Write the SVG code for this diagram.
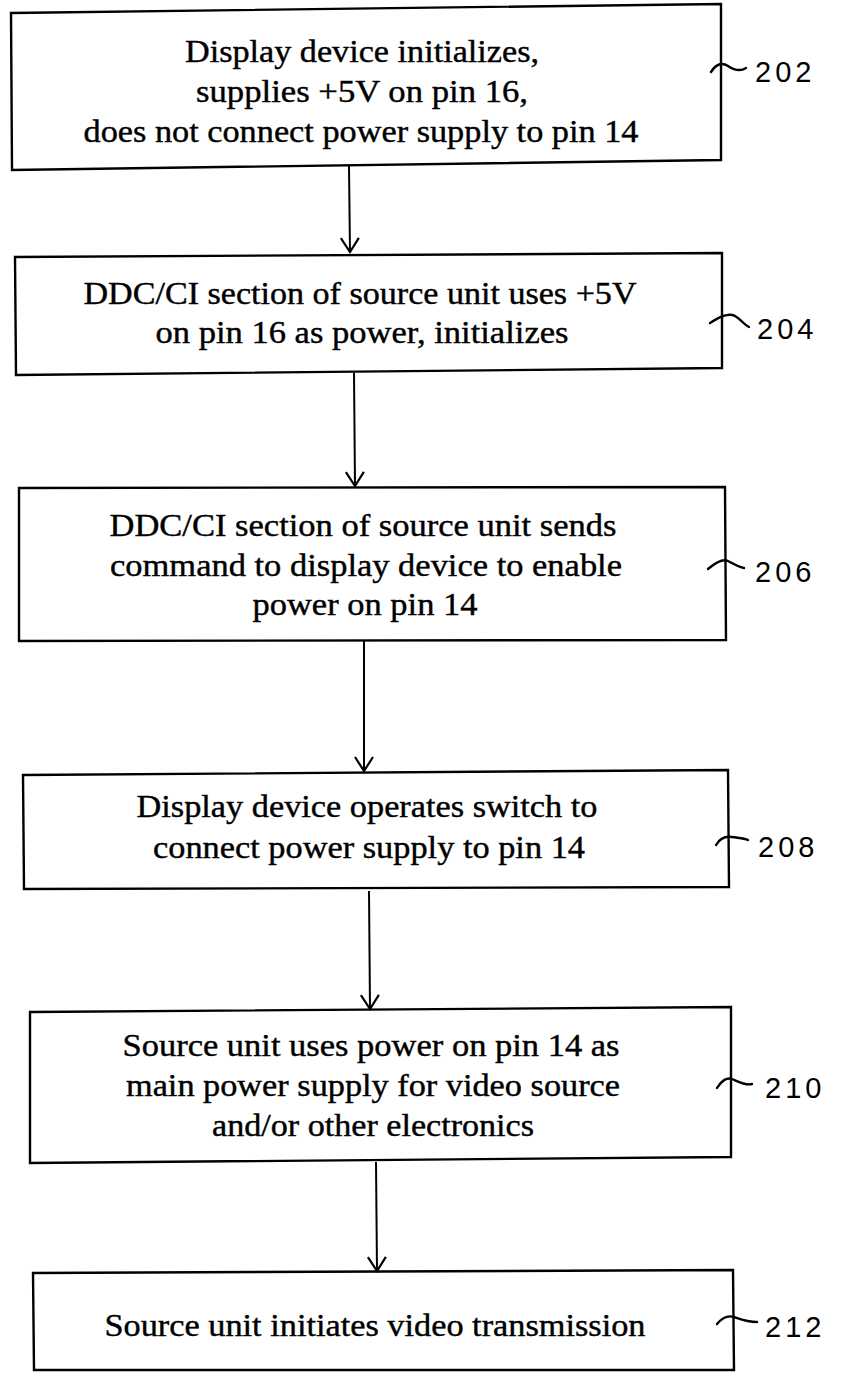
<svg xmlns="http://www.w3.org/2000/svg" width="841" height="1378" viewBox="0 0 841 1378">
<defs>
<style>
.box{fill:none;stroke:#000;stroke-width:2.4;stroke-linejoin:miter}
.t{font-family:"Liberation Serif","Times New Roman",serif;font-size:31px;fill:#000;stroke:#000;stroke-width:0.4;text-anchor:middle}
.lbl{font-family:"Liberation Sans",Arial,sans-serif;font-size:29px;fill:#000;letter-spacing:4px}
.hook{fill:none;stroke:#000;stroke-width:2.4;stroke-linecap:round}
.conn{fill:none;stroke:#000;stroke-width:2}
</style>
<marker id="arr" markerWidth="30" markerHeight="30" viewBox="-15 -15 30 30" refX="0" refY="0" orient="auto" markerUnits="userSpaceOnUse">
<path d="M-14,-9 L0,0 L-14,9" fill="none" stroke="#000" stroke-width="2.2"/>
</marker>
</defs>
<rect width="841" height="1378" fill="#fff"/>

<g id="connectors">
<line class="conn" x1="349" y1="166" x2="350" y2="252" marker-end="url(#arr)"/>
<line class="conn" x1="354" y1="373" x2="355" y2="486" marker-end="url(#arr)"/>
<line class="conn" x1="364" y1="641" x2="364" y2="771" marker-end="url(#arr)"/>
<line class="conn" x1="369" y1="891" x2="370" y2="1009" marker-end="url(#arr)"/>
<line class="conn" x1="376" y1="1162" x2="377" y2="1271" marker-end="url(#arr)"/>
</g>

<g id="n202">
<path class="box" d="M11,13 L721,4 L721,160 L12,170 Z"/>
<text class="t" x="362" y="62" textLength="354" lengthAdjust="spacingAndGlyphs">Display device initializes,</text>
<text class="t" x="362" y="102" textLength="332" lengthAdjust="spacingAndGlyphs">supplies +5V on pin 16,</text>
<text class="t" x="361" y="142" textLength="555" lengthAdjust="spacingAndGlyphs">does not connect power supply to pin 14</text>
<path class="hook" d="M711,72 C716,64 722,62 728,66 S740,72 746,68"/>
<text class="lbl" x="755" y="82">202</text>
</g>

<g id="n204">
<path class="box" d="M15,257 L722,253 L722,368 L16,375 Z"/>
<text class="t" x="360" y="304" textLength="553" lengthAdjust="spacingAndGlyphs">DDC/CI section of source unit uses +5V</text>
<text class="t" x="362" y="343" textLength="413" lengthAdjust="spacingAndGlyphs">on pin 16 as power, initializes</text>
<path class="hook" d="M710,323 C718,318 728,312 735,316 S744,325 749,327"/>
<text class="lbl" x="757" y="339">204</text>
</g>

<g id="n206">
<path class="box" d="M19,488 L725,487 L726,640 L19,641 Z"/>
<text class="t" x="363" y="536" textLength="507" lengthAdjust="spacingAndGlyphs">DDC/CI section of source unit sends</text>
<text class="t" x="366" y="576" textLength="512" lengthAdjust="spacingAndGlyphs">command to display device to enable</text>
<text class="t" x="365" y="615" textLength="225" lengthAdjust="spacingAndGlyphs">power on pin 14</text>
<path class="hook" d="M708,569 C714,564 722,558 728,561 S738,567 744,568"/>
<text class="lbl" x="755" y="582">206</text>
</g>

<g id="n208">
<path class="box" d="M23,775 L728,770 L729,887 L24,889 Z"/>
<text class="t" x="367" y="817" textLength="461" lengthAdjust="spacingAndGlyphs">Display device operates switch to</text>
<text class="t" x="369" y="858" textLength="432" lengthAdjust="spacingAndGlyphs">connect power supply to pin 14</text>
<path class="hook" d="M716,845 C720,838 726,836 732,837 S744,838 748,840"/>
<text class="lbl" x="758" y="857">208</text>
</g>

<g id="n210">
<path class="box" d="M30,1012 L731,1007 L731,1157 L30,1163 Z"/>
<text class="t" x="371" y="1056" textLength="497" lengthAdjust="spacingAndGlyphs">Source unit uses power on pin 14 as</text>
<text class="t" x="373" y="1096" textLength="494" lengthAdjust="spacingAndGlyphs">main power supply for video source</text>
<text class="t" x="373" y="1136" textLength="322" lengthAdjust="spacingAndGlyphs">and/or other electronics</text>
<path class="hook" d="M717,1088 C721,1081 727,1077 732,1079 S746,1086 752,1084"/>
<text class="lbl" x="765" y="1098" letter-spacing="1">210</text>
</g>

<g id="n212">
<path class="box" d="M33,1273 L733,1270 L734,1370 L34,1370 Z"/>
<text class="t" x="375" y="1336" textLength="541" lengthAdjust="spacingAndGlyphs">Source unit initiates video transmission</text>
<path class="hook" d="M717,1324 C722,1318 728,1315 734,1317 S748,1322 757,1322"/>
<text class="lbl" x="765" y="1337">212</text>
</g>
</svg>
